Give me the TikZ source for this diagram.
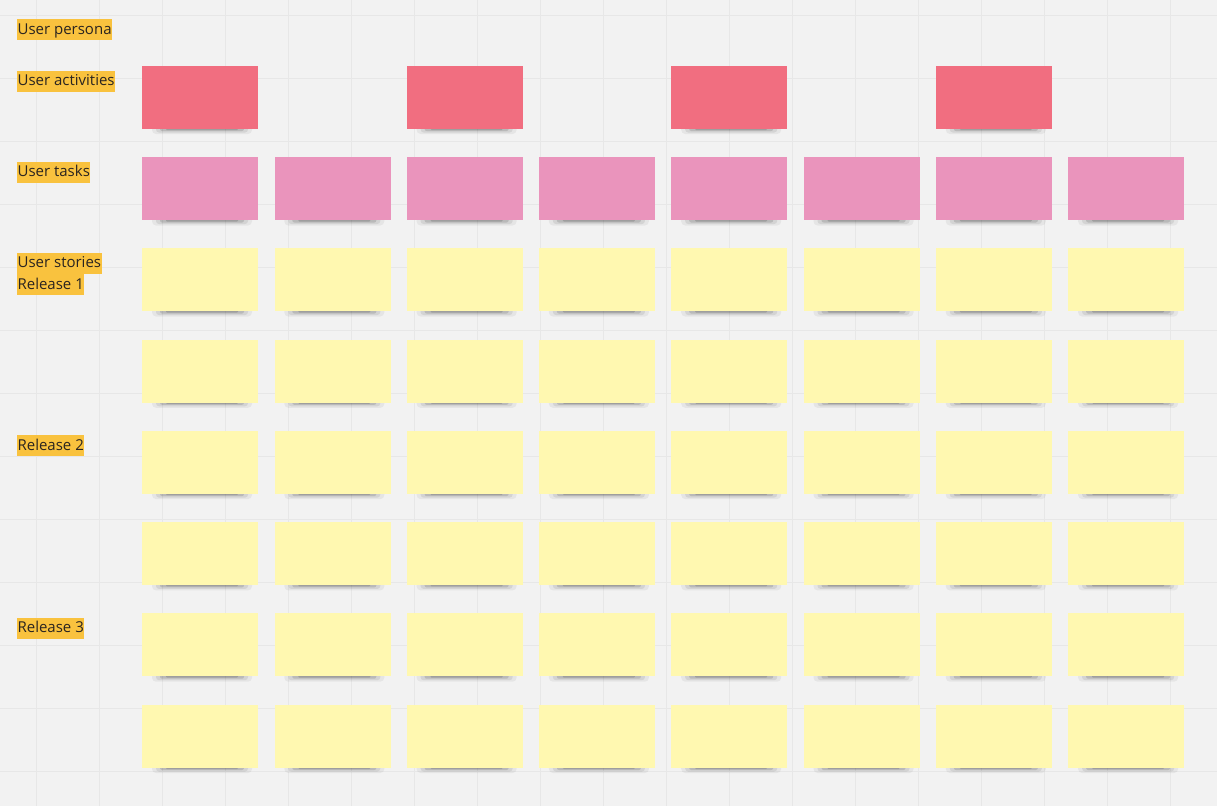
\documentclass[tikz,border=0pt]{standalone}
\usepackage{fontspec}
\setmainfont{Open Sans}
\usetikzlibrary{calc}
\definecolor{bg}{HTML}{F2F2F2}
\definecolor{gridc}{HTML}{E7E7E7}
\definecolor{actc}{HTML}{F16E80}
\definecolor{taskc}{HTML}{EA94BC}
\definecolor{storyc}{HTML}{FFF8B0}
\definecolor{labc}{HTML}{F9C23E}
\definecolor{labtxt}{HTML}{2A2420}
\tikzset{
  lbl/.style={anchor=north west, fill=labc, text=labtxt, inner xsep=0.4pt, inner ysep=0pt,
    text height=15pt, text depth=6pt, font=\fontsize{15}{17}\selectfont},
  sticky/.style={anchor=north west, minimum width=116pt, minimum height=63pt, inner sep=0pt, draw=none},
  shadowlayer/.style={fill=black, draw=none},
}
\newcommand{\notesh}[2]{%
  \fill[shadowlayer, opacity=0.05, rounded corners=4pt] ($(#1,#2)+(10,52)$) rectangle ($(#1,#2)+(110,68.5)$);
  \fill[shadowlayer, opacity=0.08, rounded corners=3pt] ($(#1,#2)+(14,56)$) rectangle ($(#1,#2)+(106,67)$);
  \fill[shadowlayer, opacity=0.12, rounded corners=2pt] ($(#1,#2)+(18,58)$) rectangle ($(#1,#2)+(102,65.5)$);
  \fill[shadowlayer, opacity=0.14, rounded corners=1pt] ($(#1,#2)+(24,60)$) rectangle ($(#1,#2)+(96,64.5)$);
}
\begin{document}
\begin{tikzpicture}[x=1pt,y=-1pt]
\fill[bg] (0,0) rectangle (1217,806);
\useasboundingbox (0,0) rectangle (1217,806);
% grid
\foreach \k in {0,...,18} \draw[gridc, line width=1pt] ({36+63*\k},0) -- ({36+63*\k},806);
\foreach \k in {0,...,12} \draw[gridc, line width=1pt] (0,{15+63*\k}) -- (1217,{15+63*\k});
% labels
\node[lbl] (persona) at (17,19) {User persona};
\node[lbl] (activities) at (17,70.5) {User activities};
\node[lbl] (tasks) at (17,161.5) {User tasks};
\node[lbl] (stories) at (17,252.5) {User stories};
\node[lbl] (rel1) at (17,274.2) {Release 1};
\node[lbl] (rel2) at (17,435) {Release 2};
\node[lbl] (rel3) at (17,617.7) {Release 3};
% activities
\foreach \c in {0,2,4,6} {
  \pgfmathsetmacro{\xx}{142+132.3*\c}
  \notesh{\xx}{65.5}
  \node[sticky, fill=actc] (act\c) at (\xx,65.5) {};
}
% tasks
\foreach \c in {0,...,7} {
  \pgfmathsetmacro{\xx}{142+132.3*\c}
  \notesh{\xx}{157}
  \node[sticky, fill=taskc] (task\c) at (\xx,157) {};
}
% stories
\foreach \r in {0,...,5} {
  \foreach \c in {0,...,7} {
    \pgfmathsetmacro{\xx}{142+132.3*\c}
    \pgfmathsetmacro{\yy}{248+91.3*\r}
    \notesh{\xx}{\yy}
    \node[sticky, fill=storyc] (story\r\c) at (\xx,\yy) {};
  }
}
\end{tikzpicture}
\end{document}
